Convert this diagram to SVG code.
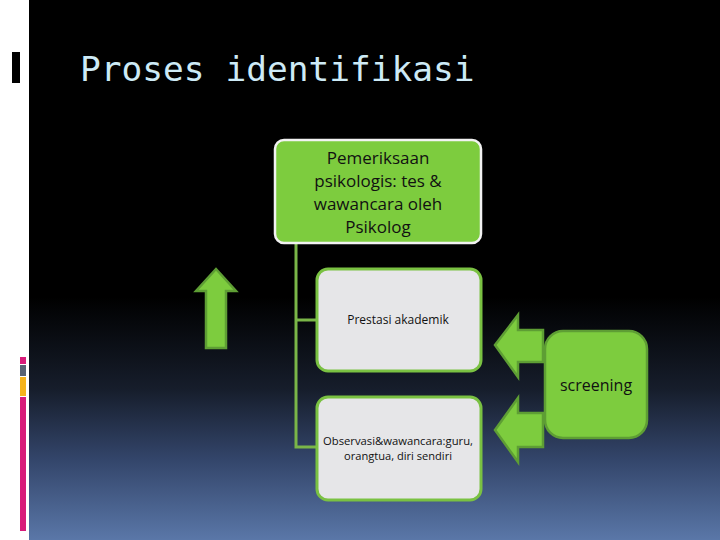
<svg xmlns="http://www.w3.org/2000/svg" width="720" height="540" viewBox="0 0 720 540">
<defs>
<linearGradient id="bg" x1="0" y1="0" x2="0" y2="540" gradientUnits="userSpaceOnUse">
<stop offset="0" stop-color="#000000"/>
<stop offset="0.55" stop-color="#000000"/>
<stop offset="0.72" stop-color="#161d2b"/>
<stop offset="0.85" stop-color="#33456a"/>
<stop offset="1" stop-color="#5a77a8"/>
</linearGradient>
<style>
.green{fill:#7dcc3e;}
.arrow{fill:#7dcc3e;stroke:#5e9e34;stroke-width:2.5;stroke-linejoin:miter;}
.light{fill:#e6e6e8;stroke:#7ac142;stroke-width:3;}
.conn{stroke:#7ab648;stroke-width:3;fill:none;}
.t{font-family:"Open Sans","Liberation Sans",sans-serif;fill:#111;text-anchor:middle;}
</style>
</defs>
<rect x="0" y="0" width="720" height="540" fill="#ffffff"/>
<rect x="29" y="0" width="691" height="540" fill="url(#bg)"/>
<rect x="12" y="52" width="8" height="31" fill="#000"/>
<rect x="20" y="357" width="6" height="7" fill="#d81b7a"/>
<rect x="20" y="365" width="6" height="11" fill="#586274"/>
<rect x="20" y="377" width="6" height="19" fill="#f5b31c"/>
<rect x="20" y="397" width="6" height="134" fill="#d81b7a"/>
<text x="80" y="81" font-family="'DejaVu Sans Mono',monospace" font-size="34.5" fill="#cdeaf6">Proses identifikasi</text>
<g id="connectors">
<path class="conn" d="M296 243 V447 H317 M296 320 H317"/>
</g>
<g id="node-psikolog">
<rect x="275" y="140" width="206" height="103" rx="9" class="green" stroke="#f2f2f2" stroke-width="2.5"/>
<text class="t" font-size="17"><tspan x="378" y="164">Pemeriksaan</tspan><tspan x="378" y="187">psikologis: tes &amp;</tspan><tspan x="378" y="210">wawancara oleh</tspan><tspan x="378" y="233">Psikolog</tspan></text>
</g>
<g id="node-prestasi">
<rect x="317" y="269" width="164" height="102" rx="11" class="light"/>
<text class="t" x="398" y="324" font-size="12">Prestasi akademik</text>
</g>
<g id="node-observasi">
<rect x="317" y="397" width="164" height="103" rx="11" class="light"/>
<text class="t" x="398" y="445" font-size="11" textLength="150" lengthAdjust="spacingAndGlyphs">Observasi&amp;wawancara:guru,</text>
<text class="t" x="398" y="460" font-size="11" textLength="108" lengthAdjust="spacingAndGlyphs">orangtua, diri sendiri</text>
</g>
<g id="node-screening">
<rect x="545" y="331" width="102" height="107" rx="18" fill="#7dcc3e" stroke="#5e9e34" stroke-width="2.5"/>
<text class="t" x="596" y="391" font-size="16">screening</text>
</g>
<g id="arrow-up">
<polygon class="arrow" points="216,269 236,291 226,291 226,348 206,348 206,291 196,291"/>
</g>
<g id="arrow-left-1">
<polygon class="arrow" points="495,345 518,315 518,330 543,330 543,362 518,362 518,377"/>
</g>
<g id="arrow-left-2">
<polygon class="arrow" points="495,430 518,398 518,413 543,413 543,447 518,447 518,462"/>
</g>
</svg>
